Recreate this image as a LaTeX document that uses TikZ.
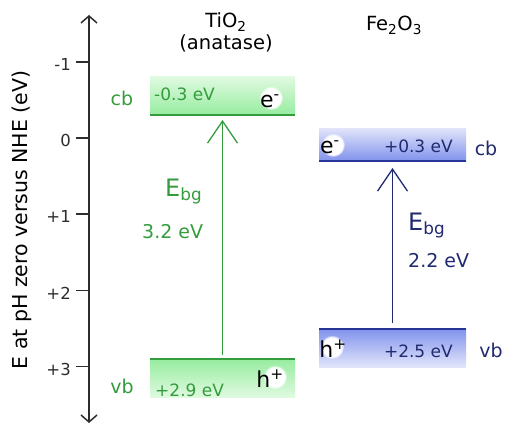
\documentclass[tikz,border=0pt]{standalone}
\usepackage{fontspec}
\setmainfont{DejaVu Sans}
\usetikzlibrary{arrows.meta,fadings}
\definecolor{tigreen}{RGB}{52,156,60}
\definecolor{tipale}{RGB}{224,250,224}
\definecolor{timint}{RGB}{150,236,160}
\definecolor{feink}{RGB}{32,42,112}
\definecolor{feline}{RGB}{40,52,150}
\definecolor{fepale}{RGB}{226,229,250}
\definecolor{fesky}{RGB}{128,146,236}
\definecolor{axisgray}{RGB}{45,45,45}

\begin{document}
\begin{tikzpicture}[x=1pt,y=-1pt,
 fs/.style={font=\fontsize{#1}{#1}\selectfont},
 axis/.style={line width=1.5pt,draw=axisgray},
 band/.style={inner sep=0pt,outer sep=0pt,draw=none},
 bline/.style={line width=2pt},
 gap/.style={-{Straight Barb[length=22pt,width=30pt]},line width=1.3pt},
 glow/.style={white,path fading=circle with fuzzy edge 20 percent},
 lab/.style={inner sep=0pt,anchor=base}]
\useasboundingbox (0,0) rectangle (505,425);
% energy axis
\coordinate (axtop) at (89,15);
\coordinate (axbot) at (89,423);
\draw[axis,{Straight Barb[length=7pt,width=16pt]}-{Straight Barb[length=7pt,width=16pt]}] (axbot) -- (axtop);
\foreach \v/\t in {-1/-1,0/0,1/+1,2/+2,3/+3}{
 \draw[axis] (76,{138+76.2*\v}) -- (89,{138+76.2*\v});
 \node[fs=16.5,inner sep=0pt,anchor=east,text=axisgray] (tick\v) at (71,{140.5+76.2*\v}) {\t};
}
\node[fs=20.5,lab,rotate=90] (ylab) at (27,220) {E at pH zero versus NHE (eV)};
% TiO2 bands
\node[band,minimum width=145pt,minimum height=38pt,top color=tipale,bottom color=timint,anchor=south west] (ticb) at (150,115) {};
\node[band,minimum width=145pt,minimum height=38pt,top color=timint,bottom color=tipale,anchor=north west] (tivb) at (150,359) {};
\draw[bline,tigreen] (ticb.south west) -- (ticb.south east);
\draw[bline,tigreen] (tivb.north west) -- (tivb.north east);
\draw[gap,tigreen,shorten <=4pt,shorten >=5pt] (tivb.north) -- (ticb.south);
% Fe2O3 bands
\node[band,minimum width=147pt,minimum height=33pt,top color=fepale,bottom color=fesky,anchor=south west] (fecb) at (319,161) {};
\node[band,minimum width=147pt,minimum height=38.5pt,top color=fesky,bottom color=fepale,anchor=north west] (fevb) at (319,328.5) {};
\draw[bline,feline] (fecb.south west) -- (fecb.south east);
\draw[bline,feline] (fevb.north west) -- (fevb.north east);
\draw[gap,feink,shorten <=6pt,shorten >=7pt] (fevb.north) -- (fecb.south);
% carriers
\fill[glow] (271,98) circle (12);
\fill[glow] (333,145) circle (12);
\fill[glow] (275,377) circle (12);
\fill[glow] (332,347) circle (12);
\node[fs=22,lab] (tie) at (270,107) {e\textsuperscript{-}};
\node[fs=22,lab] (tih) at (270,387) {h\textsuperscript{+}};
\node[fs=22,lab] (fee) at (330,153) {e\textsuperscript{-}};
\node[fs=22,lab] (feh) at (333,357) {h\textsuperscript{+}};
% titles
\node[fs=19.5,lab] (tiname) at (226,28) {TiO\textsubscript{2}};
\node[fs=19.5,lab] (tiphase) at (226,50) {(anatase)};
\node[fs=19.5,lab] (fename) at (394,31) {Fe\textsubscript{2}O\textsubscript{3}};
% TiO2 labels
\begin{scope}[text=tigreen]
\node[fs=19,lab] (ticblab) at (122,106) {cb};
\node[fs=19,lab] (tivblab) at (122,393) {vb};
\node[fs=17,lab,anchor=base west] (ticbval) at (154,100) {-0.3 eV};
\node[fs=17,lab,anchor=base west] (tivbval) at (155,396) {+2.9 eV};
\node[fs=24,lab,anchor=base west] (tigap) at (165,196) {E\textsubscript{bg}};
\node[fs=19,lab,anchor=base west] (tigapval) at (142,238) {3.2 eV};
\end{scope}
% Fe2O3 labels
\begin{scope}[text=feink]
\node[fs=19,lab] (fecblab) at (486,155) {cb};
\node[fs=19,lab] (fevblab) at (491,357) {vb};
\node[fs=17,lab,anchor=base east] (fecbval) at (453,152) {+0.3 eV};
\node[fs=17,lab,anchor=base east] (fevbval) at (453,357) {+2.5 eV};
\node[fs=24,lab,anchor=base west] (fegap) at (408,230) {E\textsubscript{bg}};
\node[fs=19,lab,anchor=base west] (fegapval) at (408,267) {2.2 eV};
\end{scope}
\end{tikzpicture}
\end{document}
